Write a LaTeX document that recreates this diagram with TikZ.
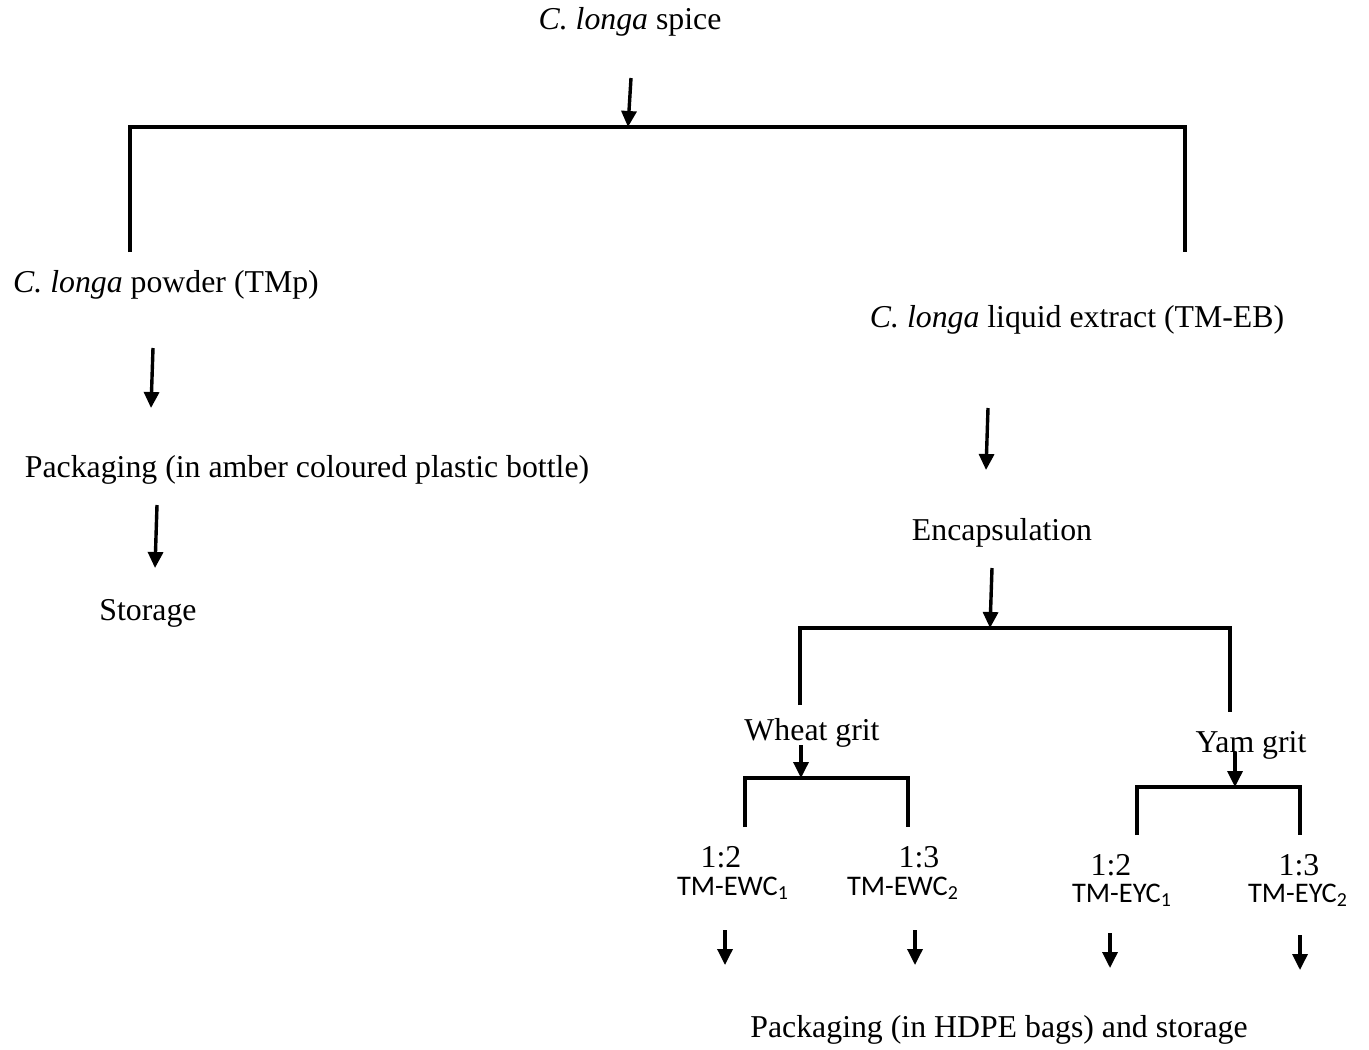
\documentclass[tikz,border=0pt]{standalone}
\usepackage{fontspec}
\setmainfont{Liberation Serif}
\newfontfamily\calfont{Carlito}
\usetikzlibrary{arrows.meta}

\begin{document}
\begin{tikzpicture}[x=0.5pt, y=-0.5pt,
        lbl/.style={font=\fontsize{15.9}{19}\selectfont, inner sep=0pt},
        code/.style={font=\calfont\fontsize{14.2}{17}\selectfont, inner sep=0pt},
        flow/.style={-{Triangle[length=8pt,width=7.5pt]}, line width=1.7pt},
        brk/.style={line width=2pt},
      ]
      \useasboundingbox (0,0) rectangle (1369,1049);

      % Spice and first split
      \node[lbl] (spice) at (630,22) {\textit{C. longa} spice};
      \coordinate (spiceA) at (631,78);
      \coordinate (spiceB) at (628,127);
      \coordinate (legTL) at (130,252);
      \coordinate (legTR) at (1185,252);
      \draw[flow] (spiceA) -- (spiceB);
      \draw[brk] (legTL) -- (legTL |- spiceB) -- (legTR |- spiceB) -- (legTR);

      % Powder branch
      \node[lbl] (powder) at (166,285) {\textit{C. longa} powder (TMp)};
      \node[lbl] (packA) at (307,470) {Packaging (in amber coloured plastic bottle)};
      \node[lbl] (store) at (148,613) {Storage};
      \coordinate (powA) at (153,348);
      \coordinate (powB) at (151,408);
      \coordinate (packAa) at (157,505);
      \coordinate (packAb) at (155,568);
      \draw[flow] (powA) -- (powB);
      \draw[flow] (packAa) -- (packAb);

      % Liquid extract branch
      \node[lbl] (extract) at (1077,320) {\textit{C. longa} liquid extract (TM-EB)};
      \node[lbl] (encap) at (1002,533) {Encapsulation};
      \coordinate (extA) at (988,408);
      \coordinate (extB) at (986,470);
      \coordinate (encA) at (992,568);
      \coordinate (encB) at (990,628);
      \coordinate (legEL) at (800,705);
      \coordinate (legER) at (1230,712);
      \draw[flow] (extA) -- (extB);
      \draw[flow] (encA) -- (encB);
      \draw[brk] (legEL) -- (legEL |- encB) -- (legER |- encB) -- (legER);

      % Wheat grit
      \node[lbl] (wheat) at (812,733) {Wheat grit};
      \coordinate (whA) at (801,745);
      \coordinate (whB) at (801,778);
      \coordinate (legWL) at (745,827);
      \coordinate (legWR) at (908,827);
      \draw[flow] (whA) -- (whB);
      \draw[brk] (legWL) -- (legWL |- whB) -- (legWR |- whB) -- (legWR);

      % Yam grit
      \node[lbl] (yam) at (1251,745) {Yam grit};
      \coordinate (yaA) at (1235,752);
      \coordinate (yaB) at (1235,787);
      \coordinate (legYL) at (1137,835);
      \coordinate (legYR) at (1300,835);
      \draw[flow] (yaA) -- (yaB);
      \draw[brk] (legYL) -- (legYL |- yaB) -- (legYR |- yaB) -- (legYR);

      % Ratios and codes
      \node[lbl] (rwa) at (721,857) {1:2};
      \node[code] (ewc1) at (733,888) {TM-EWC\textsubscript{1}};
      \node[lbl] (rwb) at (919,857) {1:3};
      \node[code] (ewc2) at (903,888) {TM-EWC\textsubscript{2}};
      \node[lbl] (rya) at (1111,865) {1:2};
      \node[code] (eyc1) at (1122,895) {TM-EYC\textsubscript{1}};
      \node[lbl] (ryb) at (1299,865) {1:3};
      \node[code] (eyc2) at (1298,895) {TM-EYC\textsubscript{2}};

      \coordinate (ewc1A) at (725,930);
      \coordinate (ewc1B) at (725,965);
      \coordinate (ewc2A) at (915,930);
      \coordinate (ewc2B) at (915,965);
      \coordinate (eyc1A) at (1110,933);
      \coordinate (eyc1B) at (1110,968);
      \coordinate (eyc2A) at (1300,935);
      \coordinate (eyc2B) at (1300,970);
      \draw[flow] (ewc1A) -- (ewc1B);
      \draw[flow] (ewc2A) -- (ewc2B);
      \draw[flow] (eyc1A) -- (eyc1B);
      \draw[flow] (eyc2A) -- (eyc2B);

      \node[lbl] (packB) at (999,1030) {Packaging (in HDPE bags) and storage};
    \end{tikzpicture}
\end{document}
